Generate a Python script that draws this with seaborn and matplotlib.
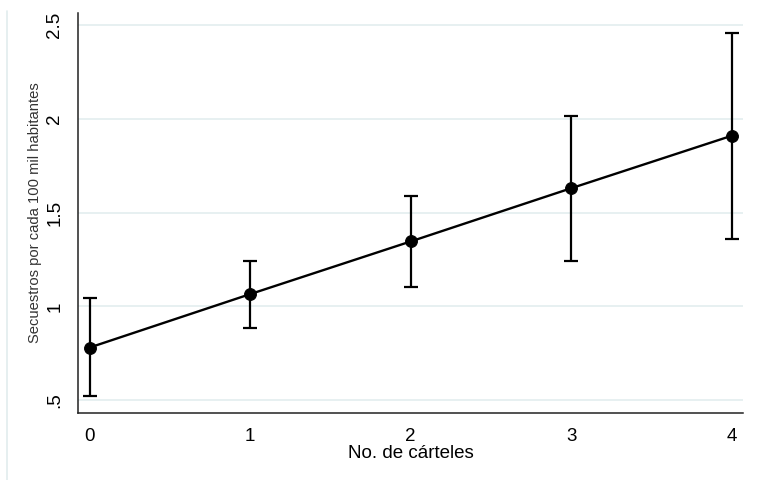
import matplotlib
matplotlib.use("Agg")
import matplotlib.pyplot as plt
import seaborn as sns
import pandas as pd
from matplotlib.lines import Line2D

# Number of cartels present and kidnapping rate (per 100k inhabitants) with 95% CI
cartels = [0, 1, 2, 3, 4]
rate = [0.78, 1.065, 1.346, 1.63, 1.91]
ci_low = [0.52, 0.884, 1.105, 1.242, 1.36]
ci_high = [1.043, 1.243, 1.591, 2.016, 2.46]
y_ticks = [0.5, 1.0, 1.5, 2.0, 2.5]
y_tick_labels = [".5", "1", "1.5", "2", "2.5"]

df = pd.DataFrame({"cartels": cartels, "rate": rate,
                   "low": ci_low, "high": ci_high})

sns.set_style("white")
plt.rcParams["font.family"] = ["Liberation Sans", "DejaVu Sans"]

fig = plt.figure(figsize=(7.57, 4.80), dpi=100)
ax = fig.add_axes([0.103, 0.140, 0.8785, 0.833])

# horizontal grid
for yv in y_ticks:
    ax.axhline(yv, color="#e3edef", lw=1.2, zorder=0)

# confidence intervals
ax.errorbar(df["cartels"], df["rate"],
            yerr=[df["rate"] - df["low"], df["high"] - df["rate"]],
            fmt="none", ecolor="black", elinewidth=1.6, capsize=5,
            capthick=1.6, zorder=2)

# fitted line with point markers
sns.lineplot(data=df, x="cartels", y="rate", ax=ax, color="black",
             lw=1.7, marker="o", markersize=8.5, markeredgecolor="black",
             markerfacecolor="black", zorder=3)

ax.set_xlim(-0.072, 4.07)
ax.set_ylim(0.432, 2.565)
ax.set_xticks(cartels)
ax.set_xticklabels([str(c) for c in cartels])
ax.set_yticks(y_ticks)
ax.set_yticklabels(y_tick_labels, rotation=90, va="center")

ax.tick_params(axis="both", direction="out", length=6, width=1,
               color="#222222", labelsize=13.5, labelcolor="black")
ax.tick_params(axis="x", pad=5)
ax.tick_params(axis="y", pad=4.5)

for side in ["top", "right"]:
    ax.spines[side].set_visible(False)
for side in ["left", "bottom"]:
    ax.spines[side].set_color("#222222")
    ax.spines[side].set_linewidth(1.1)

ax.set_xlabel("No. de cárteles", fontsize=13.5, labelpad=0, color="black")
ax.set_ylabel("Secuestros por cada 100 mil habitantes", fontsize=10.6,
              labelpad=3, color="#333333")

# faint frame line on the left of the graph region
fig.add_artist(Line2D([7.3 / 757, 7.3 / 757], [0, 1 - 10.7 / 480],
                      transform=fig.transFigure, color="#e2ecee", lw=1.2))

fig.savefig("out.png", dpi=100)
